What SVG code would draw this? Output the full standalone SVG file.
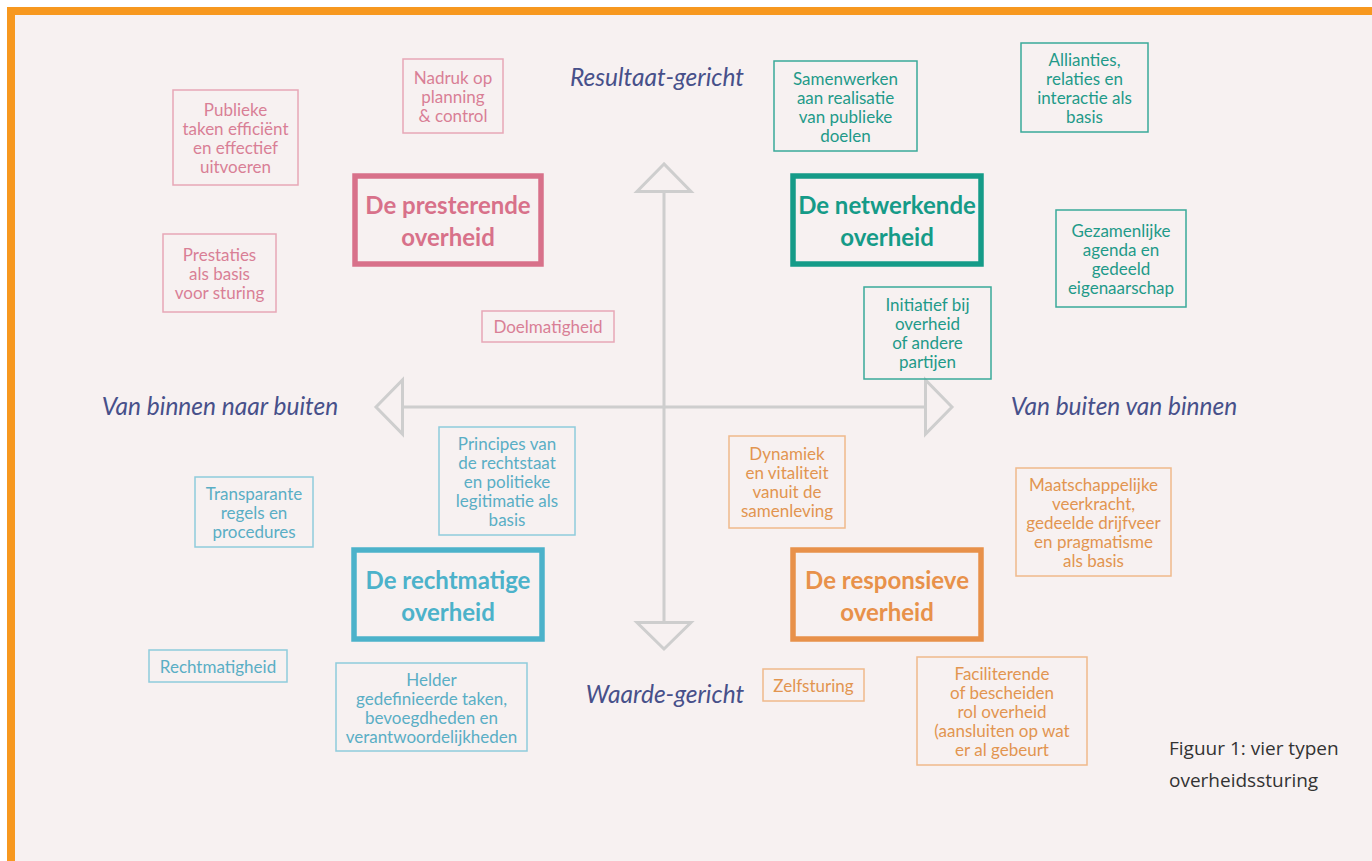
<svg xmlns="http://www.w3.org/2000/svg" width="1372" height="861" viewBox="0 0 1372 861">
<style>
.bg{fill:#f7f1f1}
.bd{fill:#f7981f}
.ax{fill:none;stroke:#cecece;stroke-width:3}
.axl{font-family:Lato,"Open Sans",sans-serif;font-style:italic;font-size:24.5px;fill:#47508a;text-anchor:middle}
.mb{fill:none;stroke-width:5.5}
.mt{font-family:Lato,"Open Sans",sans-serif;font-weight:bold;font-size:24px;text-anchor:middle}
.sb{fill:none;stroke-width:1.5}
.st{font-family:Lato,"Open Sans",sans-serif;font-size:17px;text-anchor:middle}
.pk .mb{stroke:#d8718a}.pk .mt{fill:#d8718a}.pk .sb{stroke:#e7a7b6}.pk .st{fill:#d97f96}
.tl .mb{stroke:#159b88}.tl .mt{fill:#159b88}.tl .sb{stroke:#3aa999}.tl .st{fill:#1f9a89}
.bl .mb{stroke:#4cb2ca}.bl .mt{fill:#4cb2ca}.bl .sb{stroke:#8fcbdb}.bl .st{fill:#5aaec5}
.or .mb{stroke:#e8914a}.or .mt{fill:#e8914a}.or .sb{stroke:#f0b98a}.or .st{fill:#e29550}
.cap{font-family:"Open Sans",Lato,sans-serif;font-size:19px;fill:#333}
</style>
<rect x="0" y="0" width="1372" height="861" fill="#ffffff"/>
<rect class="bg" x="7" y="7" width="1365" height="854"/>
<rect class="bd" x="7" y="7" width="1365" height="8"/>
<rect class="bd" x="7" y="7" width="8" height="854"/>

<g id="connectors">
<line class="ax" x1="664" y1="192" x2="664" y2="622"/>
<polygon class="ax" points="664,164 637,191.5 691,191.5"/>
<polygon class="ax" points="664,649 637,622.5 691,622.5"/>
<line class="ax" x1="402" y1="407" x2="926" y2="407"/>
<polygon class="ax" points="376,407 402.5,380 402.5,434"/>
<polygon class="ax" points="952,407 925.5,380 925.5,434"/>
</g>

<g id="axis-labels">
<text class="axl" x="657" y="86">Resultaat-gericht</text>
<text class="axl" x="220" y="415">Van binnen naar buiten</text>
<text class="axl" x="1124" y="415">Van buiten van binnen</text>
<text class="axl" x="665" y="703">Waarde-gericht</text>
</g>

<g class="pk">
<g id="presterende">
<rect class="mb" x="355" y="176" width="186" height="88"/>
<text class="mt" x="448" y="214">De presterende</text>
<text class="mt" x="448" y="246">overheid</text>
</g>
<g id="publieke">
<rect class="sb" x="173" y="90" width="125" height="95"/>
<text class="st" x="235.5" y="116">Publieke</text>
<text class="st" x="235.5" y="135">taken efficiënt</text>
<text class="st" x="235.5" y="154">en effectief</text>
<text class="st" x="235.5" y="173">uitvoeren</text>
</g>
<g id="nadruk">
<rect class="sb" x="403" y="59" width="100" height="74"/>
<text class="st" x="453" y="84">Nadruk op</text>
<text class="st" x="453" y="103">planning</text>
<text class="st" x="453" y="122">&amp; control</text>
</g>
<g id="prestaties">
<rect class="sb" x="163" y="234" width="113" height="78"/>
<text class="st" x="219.5" y="261">Prestaties</text>
<text class="st" x="219.5" y="280">als basis</text>
<text class="st" x="219.5" y="299">voor sturing</text>
</g>
<g id="doelmatigheid">
<rect class="sb" x="482" y="311" width="132" height="31"/>
<text class="st" x="548" y="333">Doelmatigheid</text>
</g>
</g>

<g class="tl">
<g id="netwerkende">
<rect class="mb" x="793" y="176" width="188" height="88"/>
<text class="mt" x="887" y="214">De netwerkende</text>
<text class="mt" x="887" y="246">overheid</text>
</g>
<g id="samenwerken">
<rect class="sb" x="774" y="61" width="143" height="90"/>
<text class="st" x="845.5" y="85">Samenwerken</text>
<text class="st" x="845.5" y="104">aan realisatie</text>
<text class="st" x="845.5" y="123">van publieke</text>
<text class="st" x="845.5" y="142">doelen</text>
</g>
<g id="allianties">
<rect class="sb" x="1021" y="43" width="127" height="89"/>
<text class="st" x="1084.5" y="66">Allianties,</text>
<text class="st" x="1084.5" y="85">relaties en</text>
<text class="st" x="1084.5" y="104">interactie als</text>
<text class="st" x="1084.5" y="123">basis</text>
</g>
<g id="gezamenlijke">
<rect class="sb" x="1056" y="210" width="130" height="97"/>
<text class="st" x="1121" y="237">Gezamenlijke</text>
<text class="st" x="1121" y="256">agenda en</text>
<text class="st" x="1121" y="275">gedeeld</text>
<text class="st" x="1121" y="294">eigenaarschap</text>
</g>
<g id="initiatief">
<rect class="sb" x="864" y="287" width="127" height="92"/>
<text class="st" x="927.5" y="311">Initiatief bij</text>
<text class="st" x="927.5" y="330">overheid</text>
<text class="st" x="927.5" y="349">of andere</text>
<text class="st" x="927.5" y="368">partijen</text>
</g>
</g>

<g class="bl">
<g id="rechtmatige">
<rect class="mb" x="354" y="550" width="188" height="89"/>
<text class="mt" x="448" y="589">De rechtmatige</text>
<text class="mt" x="448" y="621">overheid</text>
</g>
<g id="principes">
<rect class="sb" x="439" y="427" width="136" height="108"/>
<text class="st" x="507" y="450">Principes van</text>
<text class="st" x="507" y="469">de rechtstaat</text>
<text class="st" x="507" y="488">en politieke</text>
<text class="st" x="507" y="507">legitimatie als</text>
<text class="st" x="507" y="526">basis</text>
</g>
<g id="transparante">
<rect class="sb" x="195" y="477" width="118" height="70"/>
<text class="st" x="254" y="500">Transparante</text>
<text class="st" x="254" y="519">regels en</text>
<text class="st" x="254" y="538">procedures</text>
</g>
<g id="rechtmatigheid">
<rect class="sb" x="149" y="650" width="138" height="32"/>
<text class="st" x="218" y="673">Rechtmatigheid</text>
</g>
<g id="helder">
<rect class="sb" x="336" y="663" width="191" height="88"/>
<text class="st" x="431.5" y="686">Helder</text>
<text class="st" x="431.5" y="705">gedefinieerde taken,</text>
<text class="st" x="431.5" y="724">bevoegdheden en</text>
<text class="st" x="431.5" y="743">verantwoordelijkheden</text>
</g>
</g>

<g class="or">
<g id="responsieve">
<rect class="mb" x="793" y="550" width="188" height="89"/>
<text class="mt" x="887" y="589">De responsieve</text>
<text class="mt" x="887" y="621">overheid</text>
</g>
<g id="dynamiek">
<rect class="sb" x="729" y="436" width="116" height="92"/>
<text class="st" x="787" y="460">Dynamiek</text>
<text class="st" x="787" y="479">en vitaliteit</text>
<text class="st" x="787" y="498">vanuit de</text>
<text class="st" x="787" y="517">samenleving</text>
</g>
<g id="maatschappelijke">
<rect class="sb" x="1016" y="468" width="155" height="108"/>
<text class="st" x="1093.5" y="491">Maatschappelijke</text>
<text class="st" x="1093.5" y="510">veerkracht,</text>
<text class="st" x="1093.5" y="529">gedeelde drijfveer</text>
<text class="st" x="1093.5" y="548">en pragmatisme</text>
<text class="st" x="1093.5" y="567">als basis</text>
</g>
<g id="zelfsturing">
<rect class="sb" x="763" y="669" width="101" height="32"/>
<text class="st" x="813.5" y="692">Zelfsturing</text>
</g>
<g id="faciliterende">
<rect class="sb" x="917" y="657" width="170" height="108"/>
<text class="st" x="1002" y="680">Faciliterende</text>
<text class="st" x="1002" y="699">of bescheiden</text>
<text class="st" x="1002" y="718">rol overheid</text>
<text class="st" x="1002" y="737">(aansluiten op wat</text>
<text class="st" x="1002" y="756">er al gebeurt</text>
</g>
</g>

<g id="caption">
<text class="cap" x="1169" y="755">Figuur 1: vier typen</text>
<text class="cap" x="1169" y="787">overheidssturing</text>
</g>
</svg>
